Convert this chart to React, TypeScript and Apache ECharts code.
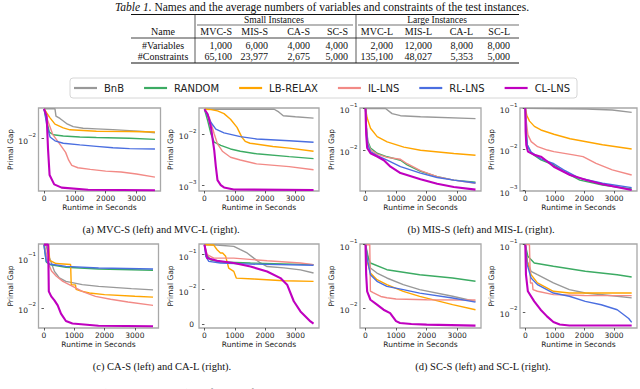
import React, { useEffect, useRef } from "react";
import * as echarts from "echarts";

const FONT_SANS = "DejaVu Sans";
const FONT_SERIF = "Liberation Serif";

const SERIES_NAMES = ["BnB", "RANDOM", "LB-RELAX", "IL-LNS", "RL-LNS", "CL-LNS"];
const SERIES_COLORS = ["#999999", "#3cab63", "#ffa500", "#f28a86", "#4a6ee0", "#bf00bf"];
const X_TICKS = [0, 1000, 2000, 3000];

// Table 1
const tableTitle = "Names and the average numbers of variables and constraints of the test instances.";
const tableGroups = ["Small Instances", "Large Instances"];
const tableHeader = ["Name", "MVC-S", "MIS-S", "CA-S", "SC-S", "MVC-L", "MIS-L", "CA-L", "SC-L"];
const rowVariables = ["#Variables", "1,000", "6,000", "4,000", "4,000", "2,000", "12,000", "8,000", "8,000"];
const rowConstraints = ["#Constraints", "65,100", "23,977", "2,675", "5,000", "135,100", "48,027", "5,353", "5,000"];

const captions = [
  "(a) MVC-S (left) and MVC-L (right).",
  "(b) MIS-S (left) and MIS-L (right).",
  "(c) CA-S (left) and CA-L (right).",
  "(d) SC-S (left) and SC-L (right).",
];
const figCaption =
  "Figure 4. The primal gap (the lower, the better) as a function of runtime, averaged over 100 test instances. For ML approaches, the policies are";

// ---- MVC-S ----
const mvcS_bnb = [[0, 0.030], [355, 0.030], [387, 0.0229], [516, 0.021], [731, 0.0174], [946, 0.0155], [1269, 0.0146], [1699, 0.0143], [2237, 0.0139], [2774, 0.0134], [3204, 0.013], [3600, 0.0124]];
const mvcS_random = [[0, 0.030], [86, 0.0191], [172, 0.0127], [301, 0.0115], [624, 0.011], [1161, 0.0106], [1699, 0.0104], [2774, 0.0101], [3600, 0.0097]];
const mvcS_lb = [[0, 0.030], [86, 0.0257], [194, 0.0215], [355, 0.017], [624, 0.0148], [839, 0.0138], [1699, 0.0131], [2774, 0.013], [3600, 0.0127]];
const mvcS_il = [[0, 0.030], [86, 0.0215], [280, 0.0117], [500, 0.0083], [700, 0.006], [800, 0.0045], [900, 0.0037], [1100, 0.0034], [1500, 0.0032], [2000, 0.003], [2500, 0.0029], [3000, 0.0027], [3600, 0.0024]];
const mvcS_rl = [[0, 0.030], [86, 0.017], [194, 0.0106], [355, 0.0092], [624, 0.0084], [1161, 0.0079], [1699, 0.0075], [2237, 0.0071], [2774, 0.0069], [3600, 0.0068]];
const mvcS_cl = [[0, 0.030], [85, 0.0228], [130, 0.0067], [180, 0.0026], [330, 0.00184], [570, 0.00163], [1430, 0.00151], [3600, 0.00148]];

// ---- MVC-L ----
const mvcL_bnb = [[0, 0.0305], [2300, 0.0305], [2450, 0.027], [2600, 0.0228], [3000, 0.0218], [3600, 0.0205]];
const mvcL_random = [[0, 0.0305], [108, 0.0181], [215, 0.01], [323, 0.0069], [538, 0.006], [860, 0.0051], [1183, 0.0046], [1720, 0.0041], [2796, 0.0036], [3600, 0.0033]];
const mvcL_lb = [[0, 0.0305], [215, 0.030], [430, 0.0283], [645, 0.0251], [860, 0.0195], [1075, 0.0135], [1237, 0.0086], [1344, 0.0072], [1505, 0.0066], [2258, 0.0057], [2796, 0.0053], [3600, 0.0046]];
const mvcL_il = [[0, 0.0305], [161, 0.021], [323, 0.01], [430, 0.0064], [591, 0.0046], [860, 0.0035], [1183, 0.0031], [1720, 0.0026], [2796, 0.0023], [3600, 0.002]];
const mvcL_rl = [[0, 0.0305], [108, 0.0226], [215, 0.0168], [376, 0.0125], [645, 0.0105], [1183, 0.0089], [1720, 0.008], [2796, 0.0074], [3600, 0.0069]];
const mvcL_cl = [[0, 0.0305], [108, 0.0244], [215, 0.0135], [323, 0.0048], [376, 0.0023], [430, 0.00125], [538, 0.001], [645, 0.0009], [968, 0.00082], [3600, 0.0008]];

// ---- MIS-S ----
const misS_bnb = [[0, 0.1], [655, 0.1], [870, 0.075], [1145, 0.067], [1800, 0.063], [3600, 0.057]];
const misS_random = [[0, 0.1], [33, 0.0341], [76, 0.0162], [164, 0.0112], [382, 0.0084], [709, 0.0069], [1145, 0.0057], [1363, 0.0044], [1800, 0.0031], [2345, 0.0023], [2890, 0.0019], [3600, 0.0017]];
const misS_lb = [[0, 0.1], [55, 0.0587], [164, 0.0335], [382, 0.021], [709, 0.0158], [1254, 0.0118], [1800, 0.0099], [2890, 0.0083], [3600, 0.0075]];
const misS_il = [[0, 0.1], [33, 0.0341], [76, 0.0147], [164, 0.0102], [382, 0.008], [709, 0.0067], [1145, 0.006], [1363, 0.0047], [1800, 0.0032], [2345, 0.0023], [2890, 0.0019], [3600, 0.0016]];
const misS_rl = [[0, 0.1], [33, 0.0285], [76, 0.0134], [164, 0.0092], [382, 0.0074], [709, 0.0057], [1145, 0.004], [1800, 0.0028], [2345, 0.0022], [2890, 0.0019], [3600, 0.00162]];
const misS_cl = [[0, 0.1], [22, 0.0238], [55, 0.0112], [164, 0.0084], [382, 0.007], [600, 0.0057], [818, 0.004], [1145, 0.0028], [1800, 0.002], [2345, 0.00155], [2890, 0.0013], [3600, 0.00112]];

// ---- MIS-L ----
const misL_bnb = [[0, 0.1], [2064, 0.0966], [2943, 0.0913], [3600, 0.08]];
const misL_random = [[0, 0.1], [22, 0.0327], [66, 0.0129], [198, 0.0081], [527, 0.0056], [966, 0.0042], [1296, 0.0029], [1844, 0.0018], [2613, 0.00137], [3600, 0.0011]];
const misL_lb = [[0, 0.1], [55, 0.066], [143, 0.049], [307, 0.0365], [527, 0.0298], [966, 0.0235], [1515, 0.0182], [2064, 0.0154], [2613, 0.013], [3600, 0.0103]];
const misL_il = [[0, 0.1], [33, 0.0475], [88, 0.0226], [198, 0.0155], [417, 0.0117], [747, 0.0097], [966, 0.0089], [1625, 0.0074], [1954, 0.0067], [2394, 0.0046], [2943, 0.0032], [3600, 0.0024]];
const misL_rl = [[0, 0.1], [22, 0.0327], [66, 0.0129], [198, 0.0086], [527, 0.0059], [966, 0.0045], [1296, 0.0032], [1844, 0.002], [2613, 0.00151], [3600, 0.00118]];
const misL_cl = [[0, 0.1], [11, 0.0272], [33, 0.0129], [88, 0.0089], [307, 0.0074], [527, 0.0067], [747, 0.0051], [966, 0.0038], [1515, 0.0024], [2064, 0.00182], [2613, 0.00143], [3600, 0.00104]];

// ---- CA-S ----
const caS_bnb = [[0, 0.185], [60, 0.185], [184, 0.1], [346, 0.054], [508, 0.04], [724, 0.034], [1265, 0.0293], [1805, 0.0271], [2886, 0.0244], [3600, 0.023]];
const caS_random = [[0, 0.185], [76, 0.0832], [184, 0.0736], [724, 0.0651], [1805, 0.0603], [3600, 0.0567]];
const caS_lb = [[0, 0.185], [150, 0.185], [190, 0.09], [400, 0.0775], [880, 0.074], [900, 0.029], [1040, 0.029], [1060, 0.0235], [1200, 0.022], [1500, 0.02], [2000, 0.0185], [3000, 0.0172], [3600, 0.0165]];
const caS_il = [[0, 0.185], [50, 0.15], [120, 0.085], [250, 0.055], [410, 0.043], [625, 0.034], [946, 0.027], [1300, 0.021], [1700, 0.0171], [2200, 0.015], [2774, 0.0132], [3600, 0.0113]];
const caS_rl = [[0, 0.185], [76, 0.0858], [184, 0.0759], [724, 0.0681], [1805, 0.063], [3600, 0.0603]];
const caS_cl = [[0, 0.185], [140, 0.185], [160, 0.0215], [240, 0.0171], [346, 0.0142], [454, 0.0113], [562, 0.0077], [724, 0.0055], [940, 0.0049], [1800, 0.0044], [3600, 0.0043]];

// ---- CA-L (symlog axis, linear below 1e-2) ----
const caL_bnb = [[0, 0.193], [400, 0.19], [968, 0.173], [1188, 0.139], [1408, 0.112], [1628, 0.08], [1848, 0.058], [2068, 0.046], [2618, 0.042], [3168, 0.037], [3600, 0.03]];
const caL_random = [[0, 0.193], [66, 0.1], [198, 0.072], [528, 0.062], [1518, 0.058], [3600, 0.052]];
const caL_lb = [[0, 0.193], [300, 0.19], [418, 0.139], [528, 0.112], [600, 0.112], [700, 0.09], [800, 0.0416], [968, 0.0334], [1050, 0.0215], [1628, 0.0202], [2618, 0.0181], [3600, 0.0173]];
const caL_il = [[0, 0.193], [88, 0.1], [308, 0.08], [968, 0.08], [2068, 0.067], [3168, 0.058], [3600, 0.052]];
const caL_rl = [[0, 0.193], [44, 0.09], [143, 0.0645], [528, 0.058], [1518, 0.054], [3600, 0.05]];
const caL_cl = [[0, 0.193], [88, 0.08], [418, 0.067], [968, 0.058], [1518, 0.046], [2068, 0.033], [2508, 0.0215], [2728, 0.0139], [2948, 0.0067], [3168, 0.0038], [3498, 0.00095], [3600, 0.0003]];

// ---- SC-S ----
const scS_bnb = [[0, 0.1], [54, 0.0785], [161, 0.0428], [376, 0.0357], [699, 0.0298], [1236, 0.0234], [1774, 0.0195], [2849, 0.0153], [3600, 0.0127]];
const scS_random = [[0, 0.1], [54, 0.0695], [161, 0.0514], [699, 0.0403], [1774, 0.0336], [2849, 0.0298], [3600, 0.0264]];
const scS_lb = [[0, 0.1], [54, 0.0546], [161, 0.0357], [376, 0.028], [699, 0.0234], [1236, 0.0183], [1774, 0.0153], [2849, 0.0113], [3600, 0.0094]];
const scS_il = [[0, 0.1], [140, 0.1], [160, 0.0185], [250, 0.0175], [380, 0.0163], [500, 0.0152], [700, 0.0145], [1000, 0.0139], [2000, 0.0135], [3600, 0.0134]];
const scS_rl = [[0, 0.1], [54, 0.0616], [161, 0.0336], [376, 0.0264], [699, 0.022], [1236, 0.0195], [1774, 0.0172], [2849, 0.0144], [3600, 0.0124]];
const scS_cl = [[0, 0.1], [22, 0.0336], [54, 0.0183], [161, 0.0135], [376, 0.0113], [591, 0.0094], [806, 0.0083], [1000, 0.0062], [1129, 0.0058], [1500, 0.0056], [2000, 0.00546], [3600, 0.00526]];

// ---- SC-L ----
const scL_bnb = [[0, 0.1], [65, 0.0565], [194, 0.0402], [410, 0.0358], [950, 0.027], [1490, 0.0215], [2030, 0.0191], [3110, 0.0171], [3600, 0.0162]];
const scL_random = [[0, 0.1], [86, 0.0671], [302, 0.0534], [950, 0.0477], [2030, 0.0402], [3110, 0.0358], [3600, 0.0331]];
const scL_lb = [[0, 0.1], [65, 0.0565], [194, 0.0358], [410, 0.027], [950, 0.0203], [1490, 0.0191], [3600, 0.0191]];
const scL_il = [[0, 0.1], [140, 0.1], [173, 0.027], [240, 0.027], [260, 0.0215], [410, 0.0203], [950, 0.0181], [2000, 0.0176], [3600, 0.0175]];
const scL_rl = [[0, 0.1], [65, 0.0505], [194, 0.032], [410, 0.0255], [950, 0.0191], [1490, 0.0171], [2030, 0.0144], [2570, 0.0128], [3110, 0.0108], [3500, 0.008], [3600, 0.007]];
const scL_cl = [[0, 0.1], [22, 0.0358], [86, 0.0203], [302, 0.0144], [518, 0.0108], [734, 0.0086], [950, 0.0071], [1166, 0.0065], [1490, 0.0063], [3600, 0.0063]];

// y tick labels per plot
const mvcS_yTicks = [0.01];
const mvcL_yTicks = [0.01, 0.001];
const misS_yTicks = [0.1, 0.01];
const misL_yTicks = [0.1, 0.01, 0.001];
const caS_yTicks = [0.1, 0.01];
const caL_yTicks = [0.1, 0.01, 0];
const scS_yTicks = [0.1, 0.01];
const scL_yTicks = [0.1, 0.01];

const PLOT_SERIES = [
  [mvcS_bnb, mvcS_random, mvcS_lb, mvcS_il, mvcS_rl, mvcS_cl],
  [mvcL_bnb, mvcL_random, mvcL_lb, mvcL_il, mvcL_rl, mvcL_cl],
  [misS_bnb, misS_random, misS_lb, misS_il, misS_rl, misS_cl],
  [misL_bnb, misL_random, misL_lb, misL_il, misL_rl, misL_cl],
  [caS_bnb, caS_random, caS_lb, caS_il, caS_rl, caS_cl],
  [caL_bnb, caL_random, caL_lb, caL_il, caL_rl, caL_cl],
  [scS_bnb, scS_random, scS_lb, scS_il, scS_rl, scS_cl],
  [scL_bnb, scL_random, scL_lb, scL_il, scL_rl, scL_cl],
];
const PLOT_YTICKS = [mvcS_yTicks, mvcL_yTicks, misS_yTicks, misL_yTicks, caS_yTicks, caL_yTicks, scS_yTicks, scL_yTicks];
// axis limits (log axes); plot 6 is symlog (limits in transformed units, zero maps to 1)
const Y_MIN = [0.00144, 0.000766, 0.00104, 0.00098, 0.00398, 0.906, 0.00483, 0.00578];
const Y_MAX = [0.0309, 0.0323, 0.1025, 0.102, 0.1905, 3.306, 0.1026, 0.1023];
const SYMLOG_PLOT = 5;
const LINTHRESH = 0.01;

const GRIDS = [
  { left: 38.5, top: 108, width: 122, height: 83 },
  { left: 199, top: 108, width: 120, height: 83 },
  { left: 360, top: 108, width: 121, height: 83 },
  { left: 520, top: 108, width: 117, height: 83 },
  { left: 38.5, top: 244, width: 120, height: 84 },
  { left: 199, top: 244, width: 120, height: 84 },
  { left: 360, top: 244, width: 121, height: 84 },
  { left: 520, top: 244, width: 117, height: 84 },
];

// symmetric-log transform: linear in [0, LINTHRESH], logarithmic above; offset by 1 so zero sits at 1
const symlog = (v: number) => (v >= LINTHRESH ? 2 + Math.log10(v / LINTHRESH) : 1 + v / LINTHRESH);
const symlogInv = (s: number) => (s >= 2 ? LINTHRESH * Math.pow(10, s - 2) : (s - 1) * LINTHRESH);

function fmtPow(v: number): string {
  if (Math.abs(v) < 1e-9) return "{z|0}";
  const e = Math.round(Math.log10(v));
  return "{b|10}{s|" + String(e).replace("-", "\u2212") + "}";
}

const TICK_RICH = {
  b: { fontSize: 7.5, fontFamily: FONT_SANS, color: "#222", lineHeight: 13, verticalAlign: "bottom" },
  s: { fontSize: 5.5, fontFamily: FONT_SANS, color: "#222", lineHeight: 5, verticalAlign: "top" },
  z: { fontSize: 7.5, fontFamily: FONT_SANS, color: "#222", lineHeight: 8 },
};

function buildOption(): any {
  const grid: any[] = [];
  const xAxis: any[] = [];
  const yAxis: any[] = [];
  const series: any[] = [];
  const tickColor = "#333";
  PLOT_SERIES.forEach((plot, i) => {
    const isSym = i === SYMLOG_PLOT;
    grid.push({ ...GRIDS[i], show: true, borderColor: "#a8a8a8", borderWidth: 1.3, backgroundColor: "transparent" });
    xAxis.push({
      type: "value",
      gridIndex: i,
      min: -180,
      max: 3780,
      axisLine: { show: false },
      splitLine: { show: false },
      axisTick: { show: true, customValues: X_TICKS, length: 2.5, lineStyle: { color: tickColor, width: 0.8 } },
      axisLabel: {
        customValues: X_TICKS,
        fontSize: 7.5,
        color: "#222",
        margin: 3,
        fontFamily: FONT_SANS,
        showMinLabel: true,
        showMaxLabel: true,
        formatter: (v: number) => String(Math.round(v)),
      },
      name: "Runtime in Seconds",
      nameLocation: "middle",
      nameGap: 12,
      nameTextStyle: { fontSize: 7.5, color: "#222", fontFamily: FONT_SANS },
    });
    const ticks = isSym ? PLOT_YTICKS[i].map(symlog) : PLOT_YTICKS[i];
    // the zero label of the symlog axis is placed separately (see below)
    const labelTicks = isSym ? PLOT_YTICKS[i].filter((v) => v > 0).map(symlog) : ticks;
    yAxis.push({
      type: isSym ? "value" : "log",
      logBase: 10,
      gridIndex: i,
      min: Y_MIN[i],
      max: Y_MAX[i],
      axisLine: { show: false },
      splitLine: { show: false },
      axisTick: { show: true, customValues: ticks, length: 2.5, lineStyle: { color: tickColor, width: 0.8 } },
      axisLabel: {
        customValues: labelTicks,
        margin: 2.5,
        showMinLabel: true,
        showMaxLabel: true,
        hideOverlap: false,
        formatter: (v: number) => fmtPow(isSym ? symlogInv(v) : v),
        rich: TICK_RICH,
      },
      name: "Primal Gap",
      nameLocation: "middle",
      nameGap: 18.5,
      nameRotate: 90,
      nameTextStyle: { fontSize: 7.5, color: "#222", fontFamily: FONT_SANS },
    });
    plot.forEach((data, k) => {
      series.push({
        type: "line",
        name: SERIES_NAMES[k],
        xAxisIndex: i,
        yAxisIndex: i,
        data: isSym ? data.map(([t, v]) => [t, symlog(v)]) : data,
        showSymbol: false,
        symbol: "none",
        silent: true,
        z: 2 + k,
        lineStyle: { width: k === 5 ? 2.1 : 1.4, color: SERIES_COLORS[k] },
        itemStyle: { color: SERIES_COLORS[k] },
      });
    });
  });

  const graphic: any[] = [];
  const serifText = (text: string, x: number, y: number, align: string, size: number) => ({
    type: "text",
    silent: true,
    style: { text, x, y, align, verticalAlign: "middle", fontSize: size, fontFamily: FONT_SERIF, fill: "#111" },
  });
  const hline = (x1: number, x2: number, y: number, w: number) => ({
    type: "line",
    silent: true,
    shape: { x1, y1: y, x2, y2: y },
    style: { stroke: "#111", lineWidth: w },
  });
  const vline = (x: number, y1: number, y2: number) => ({
    type: "line",
    silent: true,
    shape: { x1: x, y1, x2: x, y2 },
    style: { stroke: "#111", lineWidth: 0.7 },
  });

  // Table
  graphic.push({
    type: "text",
    silent: true,
    style: {
      text: "{i|Table 1.} " + tableTitle,
      x: 322,
      y: 6.5,
      align: "center",
      verticalAlign: "middle",
      fontSize: 11.5,
      fontFamily: FONT_SERIF,
      fill: "#111",
      rich: { i: { fontStyle: "italic", fontSize: 11.5, fontFamily: FONT_SERIF, fill: "#111" } },
    },
  });
  const tl = 131, tr = 519;
  const yTop = 14.5, yGroup = 19.5, yCmid = 25, yHead = 31.5, yMid = 38, yVar = 45, yCon = 56, yBot = 63;
  graphic.push(hline(tl, tr, yTop, 1.1));
  graphic.push(hline(197, 353, yCmid, 0.6));
  graphic.push(hline(358, tr, yCmid, 0.6));
  graphic.push(hline(tl, tr, yMid, 0.8));
  graphic.push(hline(tl, tr, yBot, 1.1));
  graphic.push(vline(195, yTop, yBot));
  graphic.push(vline(356, yTop, yBot));
  graphic.push(serifText(tableGroups[0], 274, yGroup, "center", 9.5));
  graphic.push(serifText(tableGroups[1], 437, yGroup, "center", 9.5));
  const colRight = [163, 232, 268, 310, 348, 393, 432, 473, 510];
  [tableHeader, rowVariables, rowConstraints].forEach((row, r) => {
    const y = [yHead, yVar, yCon][r];
    row.forEach((cell, c) => {
      graphic.push(serifText(cell, colRight[c], y, c === 0 ? "center" : "right", 10));
    });
  });

  // sub-figure captions
  graphic.push(serifText(captions[0], 161, 229, "center", 10.5));
  graphic.push(serifText(captions[1], 481, 229, "center", 10.5));
  graphic.push(serifText(captions[2], 162, 366, "center", 10.5));
  graphic.push(serifText(captions[3], 483, 366, "center", 10.5));
  graphic.push({
    type: "text",
    silent: true,
    style: { text: figCaption, x: 1, y: 387.3, align: "left", verticalAlign: "top", fontSize: 10, fontFamily: FONT_SERIF, fill: "#666" },
  });

  return {
    animation: false,
    backgroundColor: "#ffffff",
    grid,
    xAxis,
    yAxis,
    series,
    graphic,
    legend: {
      data: SERIES_NAMES,
      left: 70,
      top: 78,
      orient: "horizontal",
      icon: "rect",
      itemWidth: 23,
      itemHeight: 2.2,
      itemGap: 20,
      padding: [5, 7, 5, 4],
      borderColor: "#d6d6d6",
      borderWidth: 1,
      borderRadius: 3,
      selectedMode: false,
      textStyle: { fontSize: 10, fontFamily: FONT_SANS, color: "#222", padding: [0, 0, 0, 2] },
    },
  };
}

export default function App() {
  const ref = useRef<HTMLDivElement>(null);
  useEffect(() => {
    if (!ref.current) return;
    const chart = echarts.init(ref.current, null, { renderer: "svg" });
    const option = buildOption();
    chart.setOption(option);
    // zero tick label of the symlog axis, positioned by the axis itself
    const zeroY = chart.convertToPixel({ yAxisIndex: SYMLOG_PLOT }, symlog(0)) as number;
    const g = GRIDS[SYMLOG_PLOT];
    if (typeof zeroY === "number" && isFinite(zeroY)) {
      chart.setOption({
        graphic: [
          ...option.graphic,
          {
            type: "text",
            silent: true,
            style: {
              text: "0",
              x: g.left - 5,
              y: zeroY,
              align: "right",
              verticalAlign: "middle",
              fontSize: 7.5,
              fontFamily: FONT_SANS,
              fill: "#222",
            },
          },
        ],
      });
    }
    return () => chart.dispose();
  }, []);
  return (
    <div
      ref={ref}
      style={{ position: "fixed", left: 0, top: 0, width: 640, height: 389, background: "#fff", overflow: "hidden" }}
    />
  );
}
